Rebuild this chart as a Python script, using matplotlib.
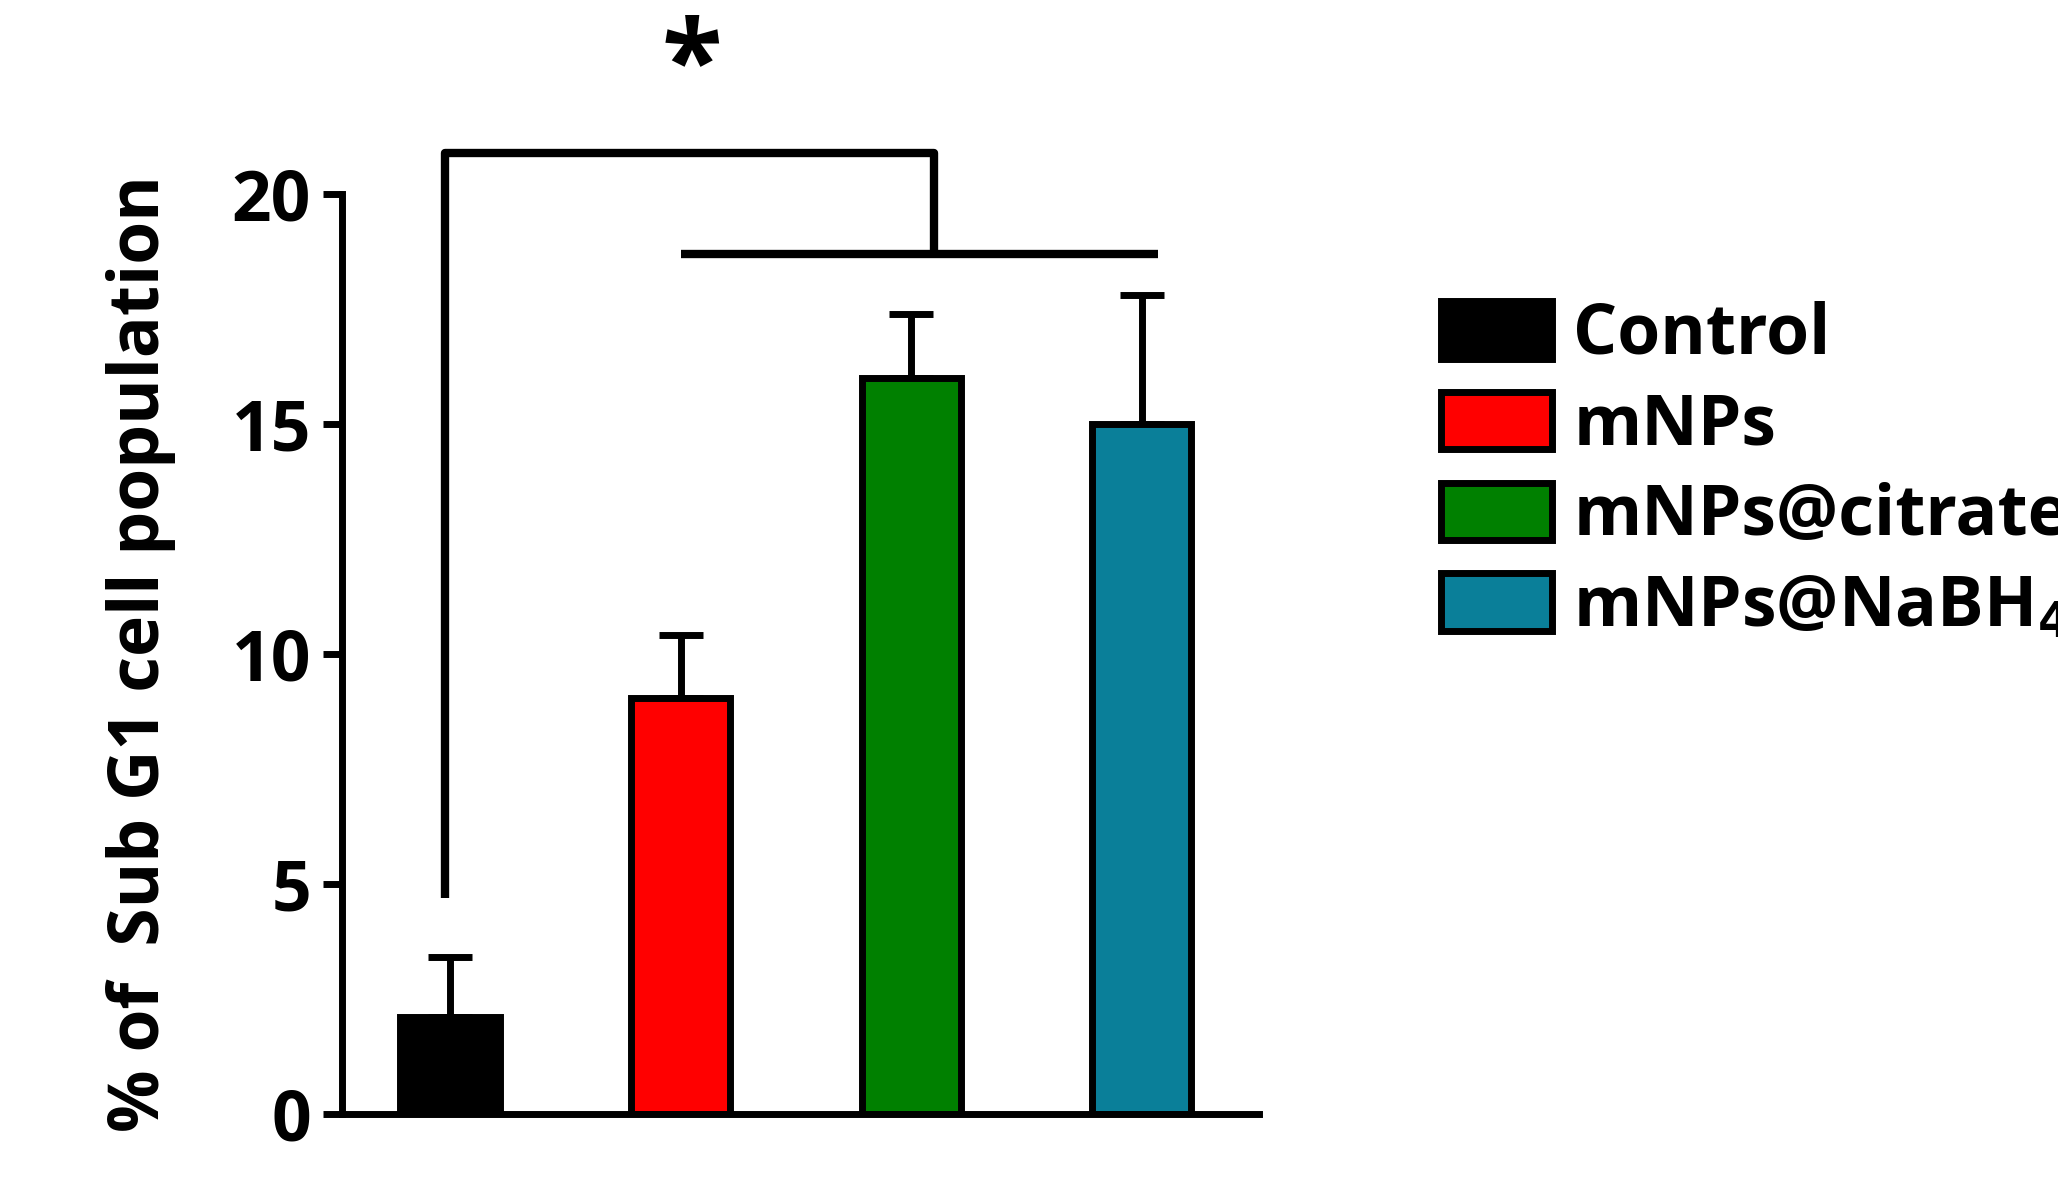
import matplotlib
matplotlib.use("Agg")
import matplotlib.pyplot as plt

categories = ["Control", "mNPs", "mNPs@citrate", "mNPs@NaBH$_4$"]
values = [2.1, 9.05, 16.0, 15.0]
errors = [1.3, 1.35, 1.4, 2.8]
colors = ["#000000", "#ff0000", "#008000", "#0a7f99"]
yticks = [0, 5, 10, 15, 20]

plt.rcParams['font.family'] = ['Open Sans', 'DejaVu Sans']
plt.rcParams['font.weight'] = 'bold'
fig = plt.figure(figsize=(20.58, 11.91), dpi=100)
ax = fig.add_axes([0.166, 0.065, 0.446, 0.772])
x = list(range(len(values)))
bars = ax.bar(x, values, width=0.43, color=colors, edgecolor="black", linewidth=5, zorder=2)
ax.errorbar(x, values, yerr=[[0]*4, errors], fmt="none", ecolor="black",
            elinewidth=5, capsize=16, capthick=5, zorder=1)
ax.set_xlim(-0.47, 3.51)
ax.set_ylim(0, 20)
ax.set_yticks(yticks)
ax.set_xticks([])
for s in ["top", "right"]:
    ax.spines[s].set_visible(False)
for s in ["left", "bottom"]:
    ax.spines[s].set_linewidth(5)
ax.tick_params(axis="y", width=5, length=14, labelsize=50, pad=8)
ax.set_ylabel("% of  Sub G1 cell population", fontsize=50, fontweight="bold", labelpad=40)

# significance bracket
kw = dict(color="black", lw=6, clip_on=False, solid_capstyle="butt")
ax.plot([-0.02, -0.02, 2.1, 2.1], [4.7, 20.9, 20.9, 18.7], **kw)
ax.plot([1.0, 3.07], [18.7, 18.7], **kw)
ax.text(1.05, 22.7, "*", ha="center", va="center", fontsize=80, fontweight="bold")

leg = fig.legend(bars, categories, loc="upper left", bbox_to_anchor=(0.67, 0.8),
                 frameon=False, fontsize=50, handlelength=1.6, handleheight=0.9,
                 labelspacing=0.3, handletextpad=0.3)
fig.savefig("out.png", dpi=100)
